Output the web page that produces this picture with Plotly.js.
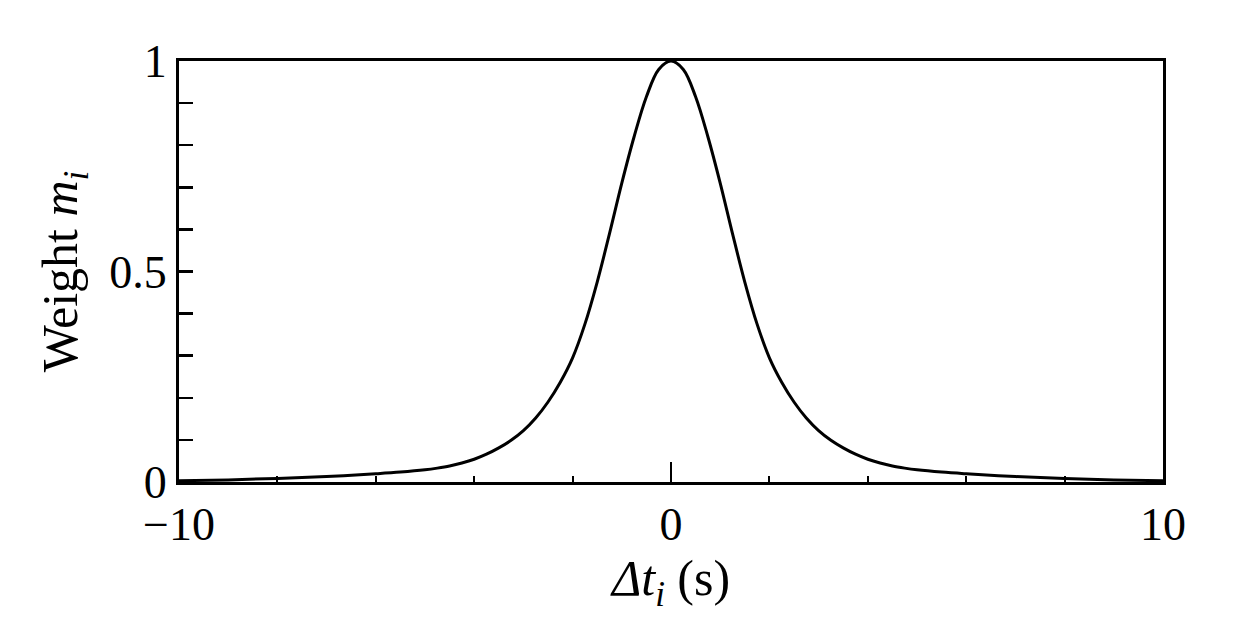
<!DOCTYPE html>
<html>
<head>
<meta charset="utf-8">
<script src="https://cdn.plot.ly/plotly-3.0.1.min.js"></script>
<style>html,body{margin:0;padding:0;background:#fff;}#chart{width:1241px;height:621px;}</style>
</head>
<body>
<div id="chart"></div>
<script>
// Time offset Δt_i (s)
const dt = [-10, -9, -8, -7, -6, -5.5, -5, -4.75, -4.5, -4.25, -4, -3.75, -3.5, -3.25, -3, -2.75, -2.5, -2.25, -2, -1.75, -1.5, -1.25, -1, -0.75, -0.5, -0.25, 0,
            0.25, 0.5, 0.75, 1, 1.25, 1.5, 1.75, 2, 2.25, 2.5, 2.75, 3, 3.25, 3.5, 3.75, 4, 4.25, 4.5, 4.75, 5, 5.5, 6, 7, 8, 9, 10];
// Weight m_i
const weight = [0.003, 0.005, 0.0085, 0.013, 0.0195, 0.0235, 0.029, 0.033, 0.038, 0.045, 0.054, 0.066, 0.081, 0.099, 0.122, 0.152, 0.190, 0.237, 0.295, 0.375, 0.475, 0.590, 0.710, 0.820, 0.915, 0.980, 1.0,
                0.980, 0.915, 0.820, 0.710, 0.590, 0.475, 0.375, 0.295, 0.237, 0.190, 0.152, 0.122, 0.099, 0.081, 0.066, 0.054, 0.045, 0.038, 0.033, 0.029, 0.0235, 0.0195, 0.013, 0.0085, 0.005, 0.003];
const xTickVals = [-10, 0, 10];
const xTickText = ['\u221210', '0', '10'];
const yTickVals = [0, 0.5, 1];
const yTickText = ['0', '0.5', '1'];

const tickFont = {family: 'Liberation Serif, Times New Roman, serif', size: 46, color: '#000'};
const titleFont = {family: 'Liberation Serif, Times New Roman, serif', size: 50, color: '#000'};

const trace = {
  x: dt, y: weight, type: 'scatter', mode: 'lines',
  line: {color: '#000', width: 3, shape: 'spline', smoothing: 1},
  hoverinfo: 'skip'
};

const layout = {
  width: 1241, height: 621,
  margin: {l: 179, r: 78, t: 61, b: 139},
  paper_bgcolor: '#fff', plot_bgcolor: '#fff',
  showlegend: false,
  font: tickFont,
  xaxis: {
    range: [-10, 10], showgrid: false, zeroline: false,
    showline: true, linecolor: '#000', linewidth: 3, mirror: true,
    tickmode: 'array', tickvals: xTickVals, ticktext: xTickText,
    ticks: 'inside', ticklen: 20, tickwidth: 2.5, tickcolor: '#000',
    minor: {dtick: 2, tick0: 0, ticks: 'inside', ticklen: 6, tickwidth: 2, tickcolor: '#000', showgrid: false},
    tickfont: tickFont,
    title: {text: '<i>\u0394t<sub>i</sub></i> (s)', font: titleFont, standoff: 6}
  },
  yaxis: {
    range: [0, 1], showgrid: false, zeroline: false,
    showline: true, linecolor: '#000', linewidth: 3, mirror: true,
    tickmode: 'array', tickvals: yTickVals, ticktext: yTickText,
    ticks: 'inside', ticklen: 14, tickwidth: 2.5, tickcolor: '#000',
    minor: {dtick: 0.1, tick0: 0, ticks: 'inside', ticklen: 14, tickwidth: 2.5, tickcolor: '#000', showgrid: false},
    tickfont: tickFont,
    title: {text: 'Weight <i>m<sub>i</sub></i>', font: titleFont, standoff: 16}
  }
};

Plotly.newPlot('chart', [trace], layout, {displayModeBar: false, staticPlot: true});
</script>
</body>
</html>
